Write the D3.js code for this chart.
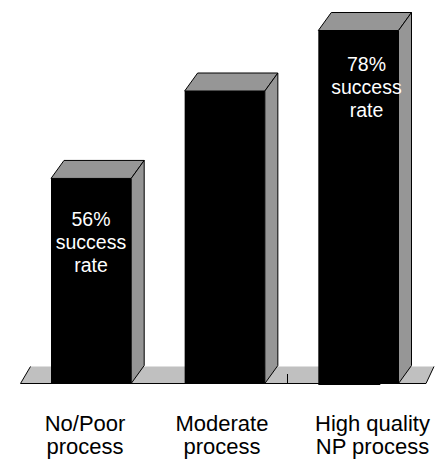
<!DOCTYPE html>
<html>
<head>
<meta charset="utf-8">
<style>
html,body{margin:0;padding:0;background:#fff}
svg{display:block}
text{font-family:"Liberation Sans",Arial,sans-serif}
</style>
<script src="https://cdn.jsdelivr.net/npm/d3@7"></script>
</head>
<body>
<div id="chart"></div>
<script>
// Success rate by process quality
const categories = ["No/Poor process", "Moderate process", "High quality NP process"];
const successRates = [56, 69, 78];
const categoryLines = [["No/Poor", "process"], ["Moderate", "process"], ["High quality", "NP process"]];
const barNotes = [["56%", "success", "rate"], null, ["78%", "success", "rate"]];
const axisFloor = 25.5;

const width = 441, height = 459;
const baseline = 383.5;
const depthX = 13, depthY = 18;

const svg = d3.select("#chart").append("svg")
  .attr("width", width).attr("height", height);

const x = d3.scaleBand().domain(categories).range([51, 398.5]).paddingInner(0.4).paddingOuter(0);
const y = d3.scaleLinear().domain([axisFloor, 78]).range([baseline, 30.5]);
const line = d3.line();

// Floor of the chart, drawn as one parallelogram behind the bars
svg.append("path")
  .attr("d", line([[20.5, baseline], [30.5, baseline - 17], [434, baseline - 17], [426, baseline]]) + "Z")
  .attr("fill", "#c0c0c0").attr("stroke", "none");
svg.append("path")
  .attr("d", line([[30.5, baseline - 17], [20.5, baseline], [426, baseline], [434, baseline - 17]]))
  .attr("fill", "none").attr("stroke", "#000").attr("stroke-width", 1);

// Short tick left on the floor between the second and third bars
svg.append("line")
  .attr("x1", 287.5).attr("x2", 287.5).attr("y1", 374).attr("y2", baseline)
  .attr("stroke", "#000");

const bars = svg.selectAll("g.bar").data(categories).join("g").attr("class", "bar");

bars.append("path")
  .attr("d", c => {
    const i = categories.indexOf(c), l = x(c), r = l + x.bandwidth(), t = y(successRates[i]);
    return line([[l, t], [l + depthX, t - depthY], [r + depthX, t - depthY], [r, t]]) + "Z";
  })
  .attr("fill", "#969696").attr("stroke", "#000").attr("stroke-width", 1);

bars.append("path")
  .attr("d", c => {
    const i = categories.indexOf(c), r = x(c) + x.bandwidth(), t = y(successRates[i]);
    return line([[r, t], [r + depthX, t - depthY], [r + depthX, baseline - depthY], [r, baseline]]) + "Z";
  })
  .attr("fill", "#969696").attr("stroke", "#000").attr("stroke-width", 1);

bars.append("rect")
  .attr("x", c => x(c)).attr("width", x.bandwidth())
  .attr("y", c => y(successRates[categories.indexOf(c)]))
  .attr("height", c => baseline - y(successRates[categories.indexOf(c)]))
  .attr("fill", "#000");

// The tallest bar's front face runs slightly past the floor line
svg.append("rect")
  .attr("x", x(categories[2])).attr("y", baseline).attr("width", 62).attr("height", 1.5)
  .attr("fill", "#000");

// White notes printed on the bar fronts
const noteCenters = [91, null, 366.5];
const noteTops = [226, null, 71];
barNotes.forEach((lines, i) => {
  if (!lines) return;
  svg.append("g").selectAll("text").data(lines).join("text")
    .attr("x", noteCenters[i]).attr("y", (d, k) => noteTops[i] + k * 23)
    .attr("text-anchor", "middle").attr("font-size", 19.5).attr("fill", "#fff")
    .text(d => d);
});

// Category captions under the floor
const captionCenters = [85, 222, 372.5];
categoryLines.forEach((lines, i) => {
  svg.append("g").selectAll("text").data(lines).join("text")
    .attr("x", captionCenters[i]).attr("y", (d, k) => 431 + k * 23)
    .attr("text-anchor", "middle").attr("font-size", 22).attr("fill", "#000")
    .text(d => d);
});
</script>
</body>
</html>
